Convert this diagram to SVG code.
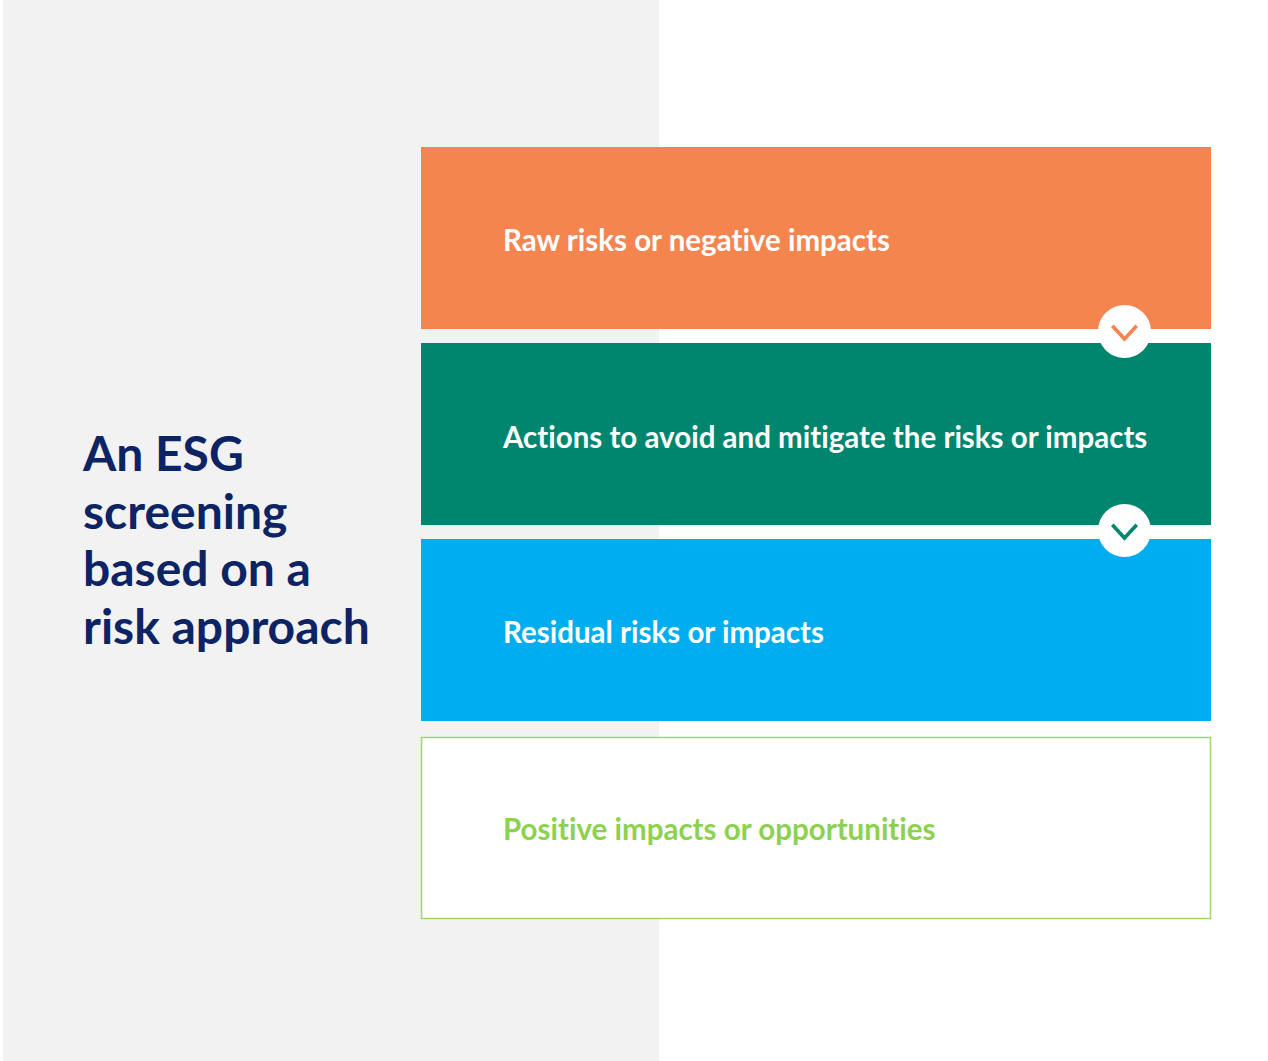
<svg xmlns="http://www.w3.org/2000/svg" width="1268" height="1061" viewBox="0 0 1268 1061">
<style>
.box-text{font-family:Lato,"Liberation Sans",sans-serif;font-weight:700;font-size:29.5px;fill:#ffffff;font-variant-ligatures:none;}
.title{font-family:Lato,"Liberation Sans",sans-serif;font-weight:700;font-size:48px;fill:#0C2463;}
.chev{fill:none;stroke-width:3.6;stroke-linecap:square;stroke-linejoin:miter;}
</style>
<rect x="0" y="0" width="1268" height="1061" fill="#ffffff"/>
<rect id="panel" x="3" y="0" width="656" height="1061" fill="#F2F2F2"/>
<g id="title">
<text class="title" x="83" y="471">An ESG</text>
<text class="title" x="83" y="529">screening</text>
<text class="title" x="83" y="586">based on a</text>
<text class="title" x="83" y="644">risk approach</text>
</g>
<g id="node-raw">
<rect x="421" y="147" width="790" height="182" fill="#F5854F"/>
<text class="box-text" x="503" y="250.5">Raw risks or negative impacts</text>
</g>
<g id="node-actions">
<rect x="421" y="343" width="790" height="182" fill="#00866E"/>
<text class="box-text" x="503" y="447.5">Actions to avoid and mitigate the risks or impacts</text>
</g>
<g id="node-residual">
<rect x="421" y="539" width="790" height="182" fill="#00AEEF"/>
<text class="box-text" x="503" y="642.5">Residual risks or impacts</text>
</g>
<g id="node-positive">
<rect x="421.5" y="737.5" width="789" height="181" fill="#ffffff" stroke="#9ED66B" stroke-width="1.5"/>
<text class="box-text" x="503" y="839.5" style="fill:#8CD150">Positive impacts or opportunities</text>
</g>
<g id="connectors">
<circle cx="1124.5" cy="331.5" r="26.5" fill="#ffffff"/>
<polyline class="chev" points="1113.5,327 1124.5,339 1135.5,327" stroke="#F5854F"/>
<circle cx="1124.5" cy="530.5" r="26.5" fill="#ffffff"/>
<polyline class="chev" points="1113.5,526 1124.5,538 1135.5,526" stroke="#00866E"/>
</g>
</svg>
